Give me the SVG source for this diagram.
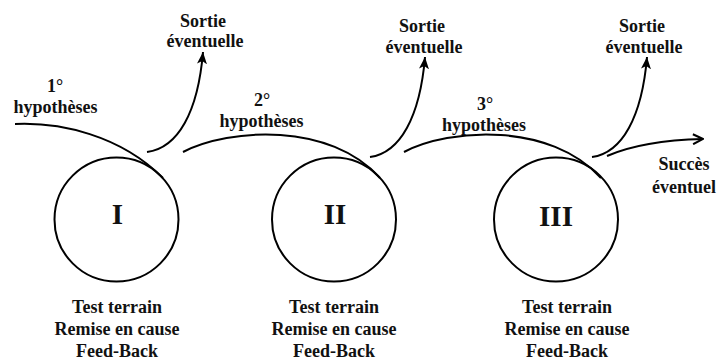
<svg xmlns="http://www.w3.org/2000/svg" width="717" height="361" viewBox="0 0 717 361">
<defs>
<style>
.t{font-family:"Liberation Serif","Times New Roman",serif;font-weight:bold;font-size:18px;fill:#111;text-anchor:middle}
.num{font-size:29px}
.c{fill:none;stroke:#000;stroke-width:2}
.l{fill:none;stroke:#000;stroke-width:2}
</style>
<marker id="sa" markerUnits="userSpaceOnUse" viewBox="0 0 12 10" refX="12" refY="5" markerWidth="12" markerHeight="10" orient="auto">
<path d="M0,0 L12,5 L0,10 L3,5 z" fill="#000"/>
</marker>
<marker id="oa" markerUnits="userSpaceOnUse" viewBox="0 0 12 12" refX="11" refY="6" markerWidth="12" markerHeight="12" orient="auto">
<path d="M1,1 L11,6 L1,11" fill="none" stroke="#000" stroke-width="2"/>
</marker>
</defs>
<rect width="717" height="361" fill="#fff"/>

<g id="connectors">
<path class="l" d="M15,124 C60,122 120,135 163,178"/>
<path class="l" d="M183,152 C230,128 330,122 380,178"/>
<path class="l" d="M404,152 C450,128 550,122 601,178"/>
<path class="l" d="M147,152 C178,148 198,112 203,52" marker-end="url(#sa)"/>
<path class="l" d="M370,157 C400,153 420,117 425,57" marker-end="url(#sa)"/>
<path class="l" d="M592,157 C622,153 642,117 647,57" marker-end="url(#sa)"/>
<path class="l" d="M607,156 C630,146 660,140 703,139" marker-end="url(#oa)"/>
</g>

<g id="node-I">
<circle class="c" cx="116.5" cy="219.5" r="62"/>
<text class="t num" x="117.5" y="224">I</text>
<text class="t" x="117" y="313">Test terrain</text>
<text class="t" x="117" y="335">Remise en cause</text>
<text class="t" x="117" y="357">Feed-Back</text>
</g>
<g id="node-II">
<circle class="c" cx="334" cy="219.5" r="62"/>
<text class="t num" x="335" y="224">II</text>
<text class="t" x="334" y="313">Test terrain</text>
<text class="t" x="334" y="335">Remise en cause</text>
<text class="t" x="334" y="357">Feed-Back</text>
</g>
<g id="node-III">
<circle class="c" cx="556" cy="219.5" r="62"/>
<text class="t num" x="556" y="226">III</text>
<text class="t" x="567" y="313">Test terrain</text>
<text class="t" x="567" y="335">Remise en cause</text>
<text class="t" x="567" y="357">Feed-Back</text>
</g>

<g id="label-h1">
<text class="t" x="55" y="92">1°</text>
<text class="t" x="55.5" y="113">hypothèses</text>
</g>
<g id="label-h2">
<text class="t" x="262" y="106">2°</text>
<text class="t" x="261.5" y="127">hypothèses</text>
</g>
<g id="label-h3">
<text class="t" x="485" y="110">3°</text>
<text class="t" x="484" y="131">hypothèses</text>
</g>
<g id="label-s1">
<text class="t" x="203" y="27">Sortie</text>
<text class="t" x="205" y="47">éventuelle</text>
</g>
<g id="label-s2">
<text class="t" x="422" y="32">Sortie</text>
<text class="t" x="424" y="53">éventuelle</text>
</g>
<g id="label-s3">
<text class="t" x="642" y="32">Sortie</text>
<text class="t" x="644" y="53">éventuelle</text>
</g>
<g id="label-succes">
<text class="t" x="684" y="170">Succès</text>
<text class="t" x="716" y="193" style="text-anchor:end">éventuel</text>
</g>
</svg>
